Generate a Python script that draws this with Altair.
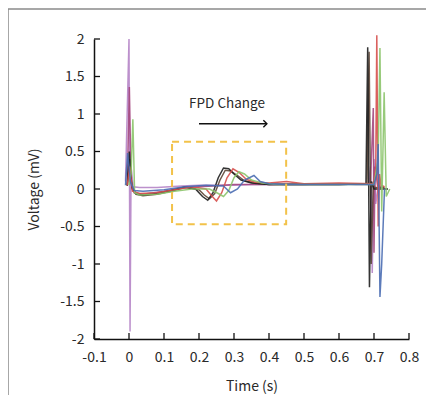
import altair as alt
import pandas as pd

# ---------------- data ----------------
t_purple = [-0.01, 0.0, 0.003, 0.006, 0.012, 0.03, 0.08, 0.15, 0.2, 0.25, 0.3, 0.35, 0.4, 0.45, 0.5, 0.55, 0.6, 0.65, 0.685, 0.69, 0.695, 0.70, 0.705, 0.712, 0.73]
v_purple = [0.1, 2.0, -1.9, 0.3, 0.03, 0.02, 0.02, 0.04, 0.05, 0.05, 0.05, 0.06, 0.06, 0.06, 0.06, 0.07, 0.07, 0.06, 0.06, 0.3, -1.12, 0.4, -0.2, 0.05, 0.02]

t_magenta = [-0.005, 0.001, 0.006, 0.015, 0.04, 0.1, 0.16, 0.2, 0.24, 0.3, 0.4, 0.5, 0.6, 0.69, 0.698, 0.70, 0.703, 0.71, 0.72]
v_magenta = [0.05, 1.36, 0.1, -0.05, -0.07, -0.03, 0.02, 0.03, 0.04, 0.06, 0.06, 0.07, 0.07, 0.07, 1.08, -0.85, 0.3, 0.05, 0.02]

t_black = [-0.005, 0.001, 0.008, 0.02, 0.04, 0.08, 0.12, 0.16, 0.19, 0.21, 0.225, 0.24, 0.255, 0.27, 0.285, 0.30, 0.32, 0.35, 0.4, 0.5, 0.6, 0.677, 0.682, 0.687, 0.692, 0.70, 0.74]
v_black = [0.05, 0.5, 0.02, -0.06, -0.08, -0.06, -0.02, 0.03, 0.0, -0.1, -0.15, -0.05, 0.15, 0.28, 0.27, 0.2, 0.12, 0.08, 0.06, 0.06, 0.06, 0.07, 1.89, -1.31, 0.1, 0.0, 0.0]

t_brown = [-0.005, 0.002, 0.009, 0.02, 0.04, 0.08, 0.12, 0.16, 0.2, 0.215, 0.23, 0.245, 0.26, 0.275, 0.29, 0.31, 0.33, 0.36, 0.4, 0.5, 0.6, 0.68, 0.686, 0.692, 0.698, 0.70, 0.73]
v_brown = [0.04, 0.4, 0.0, -0.07, -0.09, -0.07, -0.03, 0.02, -0.01, -0.08, -0.13, -0.06, 0.12, 0.25, 0.24, 0.18, 0.11, 0.08, 0.06, 0.06, 0.06, 0.07, 1.83, -1.0, 0.1, 0.02, 0.02]

t_red = [-0.005, 0.002, 0.01, 0.03, 0.08, 0.13, 0.18, 0.22, 0.238, 0.25, 0.265, 0.28, 0.297, 0.315, 0.335, 0.36, 0.4, 0.45, 0.5, 0.6, 0.7, 0.705, 0.708, 0.712, 0.716, 0.72, 0.73]
v_red = [0.05, 0.3, -0.03, -0.06, -0.05, -0.01, 0.03, 0.0, -0.1, -0.16, -0.05, 0.15, 0.27, 0.22, 0.13, 0.09, 0.08, 0.1, 0.07, 0.08, 0.07, 0.3, 2.05, -0.5, 0.2, 0.05, 0.03]

t_green = [0.0, 0.006, 0.011, 0.016, 0.03, 0.08, 0.13, 0.18, 0.23, 0.255, 0.27, 0.285, 0.3, 0.314, 0.33, 0.35, 0.38, 0.42, 0.5, 0.6, 0.7, 0.712, 0.717, 0.722, 0.729, 0.735, 0.745]
v_green = [0.05, 0.2, 0.93, -0.05, -0.08, -0.07, -0.03, 0.0, 0.0, -0.06, -0.1, -0.02, 0.15, 0.23, 0.2, 0.12, 0.08, 0.06, 0.06, 0.06, 0.06, 0.4, 1.88, -0.3, 1.29, -0.1, 0.0]

t_blue = [-0.01, -0.004, 0.004, 0.015, 0.04, 0.1, 0.16, 0.22, 0.27, 0.29, 0.31, 0.33, 0.357, 0.375, 0.4, 0.45, 0.5, 0.6, 0.7, 0.708, 0.712, 0.717, 0.722, 0.73]
v_blue = [0.05, 0.48, 0.1, -0.02, -0.03, -0.01, 0.03, 0.05, 0.04, -0.05, 0.0, 0.12, 0.18, 0.1, 0.07, 0.06, 0.06, 0.06, 0.06, 0.2, 0.6, -1.44, -1.0, 0.0]

series_names = ["purple", "magenta", "brown", "black", "red", "green", "blue"]
series_t = [t_purple, t_magenta, t_brown, t_black, t_red, t_green, t_blue]
series_v = [v_purple, v_magenta, v_brown, v_black, v_red, v_green, v_blue]
series_colors = ["#b584c6", "#a4477f", "#5e4636", "#1e1e1e", "#d6504c", "#8cc46c", "#4a6db3"]

x_ticks = [-0.1, 0.0, 0.1, 0.2, 0.3, 0.4, 0.5, 0.6, 0.7, 0.8]
y_ticks = [-2.0, -1.5, -1.0, -0.5, 0.0, 0.5, 1.0, 1.5, 2.0]

box_t = [0.123, 0.449]
box_v = [-0.47, 0.63]
arrow_t = [0.2, 0.394]
arrow_v = [0.87]
label_t = [0.28]
label_v = [1.13]
label_text = ["FPD Change"]

# ---------------- build ----------------
rows = []
for name, ts, vs in zip(series_names, series_t, series_v):
    for i, (t, v) in enumerate(zip(ts, vs)):
        rows.append({"series": name, "t": t, "v": v, "i": i})
df = pd.DataFrame(rows)

W, H = 315, 300
FONT = "Noto Sans CJK KR"

xscale = alt.Scale(domain=[-0.1, 0.8], nice=False, zero=False)
yscale = alt.Scale(domain=[-2, 2], nice=False, zero=False)

lab_expr = "datum.value < 0 ? '-' + format(-datum.value, '~g') : format(datum.value, '~g')"

common_axis = dict(labelExpr=lab_expr, grid=False, ticks=False, domainColor="#111", domainWidth=1.5,
                   labelFontSize=14, titleFontSize=14, titleFontWeight="normal",
                   labelColor="#2a2a2a", titleColor="#2a2a2a", labelFont=FONT, titleFont=FONT,
                   labelOverlap=False, labelFlush=False, labelBound=False)

x_axis = alt.Axis(values=x_ticks, titlePadding=15, labelPadding=11, **common_axis)
y_axis = alt.Axis(values=y_ticks, titlePadding=18, labelPadding=10, **common_axis)

def X(field):
    return alt.X(field, scale=xscale, axis=x_axis, title="Time (s)")

def Y(field):
    return alt.Y(field, scale=yscale, axis=y_axis, title="Voltage (mV)")

lines = alt.Chart(df).mark_line(strokeWidth=1.5, opacity=0.9).encode(
    x=X("t:Q"),
    y=Y("v:Q"),
    color=alt.Color("series:N", scale=alt.Scale(domain=series_names, range=series_colors), legend=None),
    order="i:Q",
    detail="series:N",
)

xt = alt.Chart(pd.DataFrame({"t": x_ticks})).mark_rule(color="#111", strokeWidth=1.3).encode(
    x=X("t:Q"), y=alt.value(H), y2=alt.value(H - 6))
yt = alt.Chart(pd.DataFrame({"v": y_ticks})).mark_rule(color="#111", strokeWidth=1.3).encode(
    y=Y("v:Q"), x=alt.value(0), x2=alt.value(6))

box = alt.Chart(pd.DataFrame({"t1": [box_t[0]], "t2": [box_t[1]], "v1": [box_v[0]], "v2": [box_v[1]]})).mark_rect(
    fillOpacity=0, stroke="#f2c24a", strokeWidth=2, strokeDash=[7, 5]).encode(
    x=X("t1:Q"), x2="t2:Q", y=Y("v1:Q"), y2="v2:Q")

arrow_line = alt.Chart(pd.DataFrame({"t1": [arrow_t[0]], "t2": [arrow_t[1]], "v": arrow_v})).mark_rule(
    color="#111", strokeWidth=1.4).encode(
    x=X("t1:Q"), x2="t2:Q", y=Y("v:Q"))
arrow_head = alt.Chart(pd.DataFrame({"t": [arrow_t[1]], "v": arrow_v})).mark_point(
    shape="M -1 -1 L 0 0 L -1 1", filled=False, size=50, color="#111", strokeWidth=1.4, opacity=1).encode(
    x=X("t:Q"), y=Y("v:Q"))

label = alt.Chart(pd.DataFrame({"t": label_t, "v": label_v, "txt": label_text})).mark_text(
    font=FONT, fontSize=13.5, color="#2a2a2a", align="center", baseline="middle").encode(
    x=X("t:Q"), y=Y("v:Q"), text="txt:N")

frame_left = alt.Chart(pd.DataFrame({"a": [0]})).mark_rule(color="#8a8a8a", strokeWidth=1.5).encode(
    x=alt.value(-86), y=alt.value(-30), y2=alt.value(400))
frame_top = alt.Chart(pd.DataFrame({"a": [0]})).mark_rule(color="#8a8a8a", strokeWidth=1.5).encode(
    x=alt.value(-86), x2=alt.value(360), y=alt.value(-30))

chart = alt.layer(lines, frame_left, frame_top, box, xt, yt, arrow_line, arrow_head, label).properties(
    width=W, height=H,
    autosize=alt.AutoSizeParams(type="none"),
    padding={"left": 86, "top": 31, "right": 17, "bottom": 56},
    background="white",
).configure_view(stroke=None).configure_axis(labelOverlap=False)

chart.save("out.html", embed_options={"renderer": "svg", "actions": False})
